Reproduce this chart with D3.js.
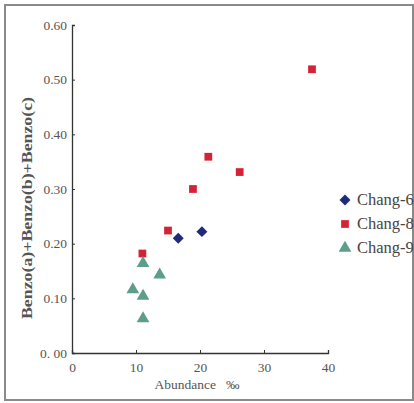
<!DOCTYPE html>
<html>
<head>
<meta charset="utf-8">
<script src="https://cdn.jsdelivr.net/npm/d3@7"></script>
<style>
  body { margin: 0; background: #fff; }
  svg text { font-family: "Liberation Serif", "DejaVu Serif", serif; }
</style>
</head>
<body>
<svg id="chart" width="414" height="403"></svg>
<script>
// values
var chang6X = [16.6, 20.3]
var chang6Y = [0.210, 0.222]
var chang8X = [11.0, 15.0, 18.9, 21.3, 26.2, 37.5]
var chang8Y = [0.182, 0.224, 0.300, 0.359, 0.331, 0.519]
var chang9X = [11.1, 13.7, 9.5, 11.1, 11.1]
var chang9Y = [0.164, 0.143, 0.116, 0.104, 0.063]
var xTicks = [0, 10, 20, 30, 40]
var yTicks = [0, 0.1, 0.2, 0.3, 0.4, 0.5, 0.6]
var yTickLabels = ['0. 00', '0.10', '0.20', '0.30', '0.40', '0.50', '0.60']
var seriesNames = ['Chang-6', 'Chang-8', 'Chang-9']

var svg = d3.select('#chart')

// photo frame
svg.append('rect')
    .attr('x', 5).attr('y', 5).attr('width', 408).attr('height', 395)
    .attr('fill', '#fff').attr('stroke', '#8a8a8a').attr('stroke-width', 2)

var x = d3.scaleLinear().domain([0, 40]).range([72, 328])
var y = d3.scaleLinear().domain([0, 0.6]).range([353, 25])

var g = svg.append('g')

// axes
var xAxis = g.append('g')
    .attr('transform', 'translate(0,' + y(0) + ')')
    .call(d3.axisBottom(x).tickValues(xTicks).tickSize(-3).tickPadding(8))
var yAxis = g.append('g')
    .attr('transform', 'translate(' + x(0) + ',0)')
    .call(d3.axisLeft(y).tickValues(yTicks).tickSize(-3).tickPadding(5)
        .tickFormat((d, i) => yTickLabels[i]))

g.selectAll('.domain').attr('stroke', '#333').attr('stroke-width', 1.3)
g.selectAll('.tick line').attr('stroke', '#333')
g.selectAll('.tick text').attr('fill', '#555').attr('font-size', 13.5)
    .attr('font-family', '"Liberation Serif", serif')
xAxis.selectAll('.tick text').attr('dy', '0.85em')

// axis titles
svg.append('text')
    .attr('transform', 'translate(32,208) rotate(-90)')
    .attr('text-anchor', 'middle')
    .attr('font-size', 14).attr('font-weight', 'bold').attr('fill', '#555')
    .attr('textLength', 222).attr('lengthAdjust', 'spacingAndGlyphs')
    .text('Benzo(a)+Benzo(b)+Benzo(c)')
svg.append('text')
    .attr('x', 197).attr('y', 389)
    .attr('text-anchor', 'middle')
    .attr('font-size', 13.5).attr('fill', '#555')
    .attr('xml:space', 'preserve')
    .text('Abundance   \u2030')

var colors = ['#1f2a78', '#d42236', '#5d9e88']
var shapes = [d3.symbolSquare, d3.symbolSquare, d3.symbolTriangle]
var sizes = [60, 60, 70]
var rot = [45, 0, 0]
var xs = [chang6X, chang8X, chang9X]
var ys = [chang6Y, chang8Y, chang9Y]

// points
xs.forEach((xv, s) => {
  g.selectAll('.pt' + s).data(xv).enter()
      .append('path')
      .attr('class', 'pt' + s)
      .attr('d', d3.symbol().type(shapes[s]).size(sizes[s]))
      .attr('transform', (d, i) => 'translate(' + x(d) + ',' + y(ys[s][i]) + ') rotate(' + rot[s] + ')')
      .attr('fill', colors[s])
})

// legend (text runs past the frame edge, as in the scan)
var legend = svg.append('g').attr('transform', 'translate(345,200)')
seriesNames.forEach((name, s) => {
  var row = legend.append('g').attr('transform', 'translate(0,' + (s * 24) + ')')
  row.append('path')
      .attr('d', d3.symbol().type(shapes[s]).size(sizes[s]))
      .attr('transform', 'rotate(' + rot[s] + ')')
      .attr('fill', colors[s])
  row.append('text')
      .attr('x', 12).attr('y', 5)
      .attr('font-size', 16.5).attr('fill', '#444')
      .text(name)
})
</script>
</body>
</html>
